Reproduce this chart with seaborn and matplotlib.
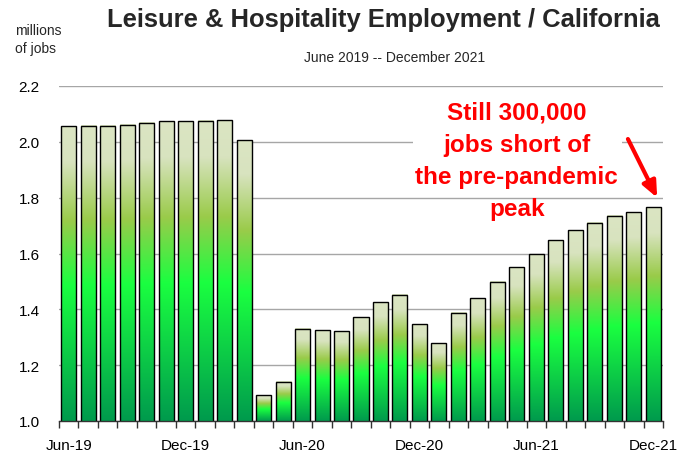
import numpy as np
import pandas as pd
import matplotlib
matplotlib.use("Agg")
import matplotlib.pyplot as plt
from matplotlib.colors import LinearSegmentedColormap
from matplotlib.patches import Rectangle
import seaborn as sns

months = ["Jun-19", "Jul-19", "Aug-19", "Sep-19", "Oct-19", "Nov-19", "Dec-19",
          "Jan-20", "Feb-20", "Mar-20", "Apr-20", "May-20", "Jun-20", "Jul-20",
          "Aug-20", "Sep-20", "Oct-20", "Nov-20", "Dec-20", "Jan-21", "Feb-21",
          "Mar-21", "Apr-21", "May-21", "Jun-21", "Jul-21", "Aug-21", "Sep-21",
          "Oct-21", "Nov-21", "Dec-21"]
jobs = [2.055, 2.058, 2.058, 2.062, 2.069, 2.074, 2.074, 2.076, 2.078, 2.005,
        1.093, 1.141, 1.330, 1.325, 1.321, 1.371, 1.425, 1.453, 1.347, 1.278,
        1.387, 1.439, 1.499, 1.551, 1.598, 1.648, 1.684, 1.710, 1.736, 1.748,
        1.765]
tick_labels = ["Jun-19", "Dec-19", "Jun-20", "Dec-20", "Jun-21", "Dec-21"]
y_ticks = [1.0, 1.2, 1.4, 1.6, 1.8, 2.0, 2.2]
y_min, y_max = 1.0, 2.2

df = pd.DataFrame({"month": months, "jobs": jobs})

sns.set_theme(style="white")
plt.rcParams["font.family"] = ["Liberation Sans", "DejaVu Sans"]

fig = plt.figure(figsize=(6.96, 4.56), dpi=100)
ax = fig.add_axes([59 / 696, 34 / 456, 604 / 696, 335 / 456])

sns.barplot(data=df, x="month", y="jobs", width=0.77, edgecolor="black",
            linewidth=1.0, color="#1aff40", ax=ax, zorder=3)

cmap = LinearSegmentedColormap.from_list(
    "grad",
    [(0.0, "#009a4d"), (0.46, "#1aff40"), (0.68, "#9acb4a"),
     (0.88, "#d8e3bf"), (1.0, "#dbe5c3")])
grad = np.linspace(0, 1, 256).reshape(-1, 1)
for p in ax.patches:
    x0, w = p.get_x(), p.get_width()
    top = p.get_y() + p.get_height()
    ax.imshow(grad, cmap=cmap, origin="lower", aspect="auto",
              extent=[x0, x0 + w, y_min, top], zorder=2,
              interpolation="bilinear")
    p.set_facecolor("none")

ax.set_xlim(-0.5, len(months) - 0.5)
ax.set_ylim(y_min, y_max)
ax.set_yticks(y_ticks)
ax.set_yticklabels([f"{v:.1f}" for v in y_ticks])
pos = [months.index(m) for m in tick_labels]
ax.set_xticks(pos)
ax.set_xticklabels(tick_labels)
ax.set_xticks(np.arange(-0.5, len(months), 1.0), minor=True)
ax.tick_params(axis="x", which="major", length=0, pad=12, labelsize=11,
               colors="black")
ax.tick_params(axis="x", which="minor", length=5, width=1, color="#333333",
               direction="out", bottom=True)
ax.tick_params(axis="y", length=0, pad=14, labelsize=11, colors="black")
ax.set_xlabel("")
ax.set_ylabel("")

ax.grid(axis="y", color="#a6a6a6", linewidth=1.0, zorder=0)
ax.set_axisbelow(True)
for s in ["left", "right", "top"]:
    ax.spines[s].set_visible(False)
ax.spines["bottom"].set_color("#333333")
ax.spines["bottom"].set_linewidth(1.0)
ax.spines["bottom"].set_zorder(4)

# white background behind annotation
ax.add_patch(Rectangle((0.586, 0.752), 0.346, 0.209, transform=ax.transAxes,
                       facecolor="white", edgecolor="none", zorder=1))
ax.text(23.0, 1.934, "Still 300,000\njobs short of\nthe pre-pandemic\npeak",
        ha="center", va="center", color="#ff0000", fontsize=17.5,
        fontweight="bold", linespacing=1.5, zorder=5)
ax.annotate("", xy=(30.2, 1.80), xytext=(28.7, 2.01),
            arrowprops=dict(arrowstyle="-|>,head_length=0.8,head_width=0.35",
                            color="#ff0000", lw=3, shrinkA=0, shrinkB=0),
            zorder=5)

fig.text(383 / 696, 1 - 20 / 456, "Leisure & Hospitality Employment / California",
         ha="center", va="center", fontsize=18.4, fontweight="bold")
fig.text(395 / 696, 1 - 58 / 456, "June 2019 -- December 2021",
         ha="center", va="center", fontsize=10)
fig.text(15 / 696, 1 - 40 / 456, "millions\nof jobs", ha="left", va="center",
         fontsize=10, linespacing=1.35)

fig.savefig("out.png", dpi=100, facecolor="white")
